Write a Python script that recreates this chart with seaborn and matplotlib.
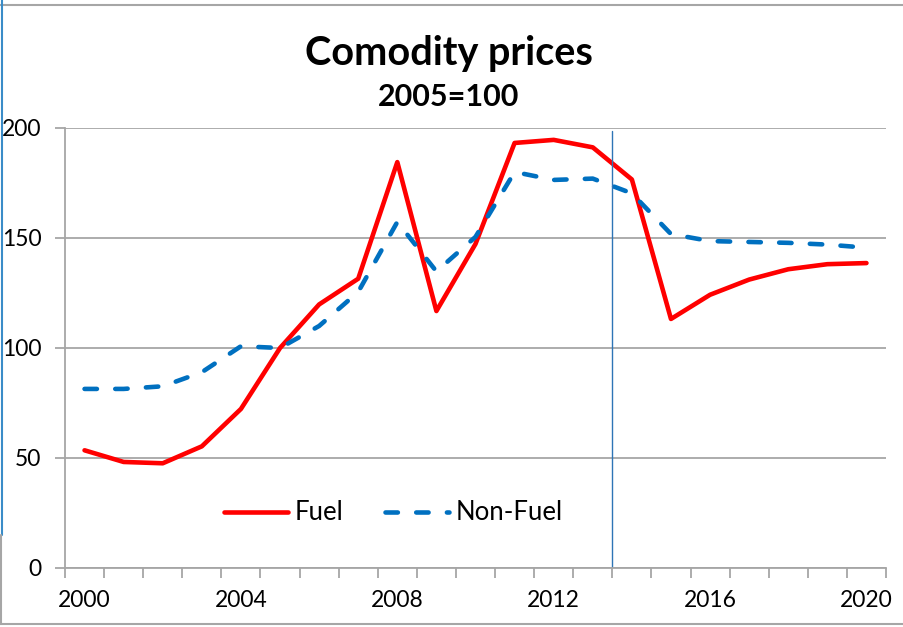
import pandas as pd
import matplotlib.pyplot as plt
import seaborn as sns
from matplotlib.lines import Line2D
from matplotlib.ticker import MultipleLocator, FixedLocator


years = list(range(2000, 2021))
fuel = [53.5, 48.2, 47.6, 55.3, 72.3, 100.0, 119.8, 131.5, 184.5, 116.8, 147.3,
        193.2, 194.6, 191.2, 176.6, 113.2, 124.2, 131.1, 135.8, 138.1, 138.6]
non_fuel = [81.4, 81.4, 82.6, 89.0, 100.8, 100.0, 110.0, 125.5, 157.3, 134.8, 150.5,
            180.0, 176.4, 177.0, 170.3, 151.8, 148.6, 148.2, 147.8, 147.0, 145.6]
x_labels = [2000, 2004, 2008, 2012, 2016, 2020]
y_ticks = [0, 50, 100, 150, 200]
split_year = 2013.5

df = pd.DataFrame({'Year': years, 'Fuel': fuel, 'Non-Fuel': non_fuel})

sns.set_style('white')
plt.rcParams['font.family'] = ['Lato', 'DejaVu Sans']
plt.rcParams['text.color'] = 'black'
plt.rcParams['xtick.color'] = 'black'
plt.rcParams['ytick.color'] = 'black'

grid_gray = '#a6a6a6'
fig = plt.figure(figsize=(9.04, 6.27), dpi=100)
ax = fig.add_axes([65 / 904, 59 / 627, 821 / 904, 440 / 627])

sns.lineplot(data=df, x='Year', y='Fuel', ax=ax, color='#ff0000', linewidth=3.3,
             label='Fuel', solid_capstyle='round')
sns.lineplot(data=df, x='Year', y='Non-Fuel', ax=ax, color='#0070c0', linewidth=3.3,
             label='Non-Fuel', linestyle=(0, (2.7, 4.0)), dash_capstyle='round')

ax.axvline(split_year, ymin=0, ymax=0.993, color='#2e75b6', linewidth=1.0)

ax.set_xlim(1999.5, 2020.5)
ax.set_ylim(0, 200)
ax.set_xlabel('')
ax.set_ylabel('')

ax.xaxis.set_major_locator(FixedLocator(x_labels))
ax.xaxis.set_minor_locator(MultipleLocator(1, offset=0.5))
ax.set_yticks(y_ticks)
ax.tick_params(axis='x', which='major', length=0, pad=16, labelsize=16.5)
ax.tick_params(axis='x', which='minor', length=7, width=1.3, color=grid_gray,
               direction='out', bottom=True)
ax.tick_params(axis='y', length=7, width=1.3, color=grid_gray, direction='out',
               left=True, pad=10, labelsize=16.5)

ax.grid(axis='y', color=grid_gray, linewidth=1.3)
for side in ['top', 'right']:
    ax.spines[side].set_visible(False)
for side in ['left', 'bottom']:
    ax.spines[side].set_color(grid_gray)
    ax.spines[side].set_linewidth(1.3)

ax.legend(loc='center', bbox_to_anchor=(0.40, 0.125), ncol=2, frameon=False,
          fontsize=18.5, handlelength=2.5, columnspacing=1.6, handletextpad=0.25)

fig.text(449 / 904, 1 - 65 / 627, 'Comodity prices', ha='center', va='baseline',
         fontsize=28.5, fontweight='bold')
fig.text(449 / 904, 1 - 106 / 627, '2005=100', ha='center', va='baseline',
         fontsize=22, fontweight='bold')

# outer chart frame, cut off on the right
fig.add_artist(Line2D([0, 1], [1 - 5 / 627, 1 - 5 / 627], color=grid_gray, linewidth=1.5))
fig.add_artist(Line2D([0, 1], [1 - 624 / 627, 1 - 624 / 627], color=grid_gray, linewidth=1.5))
fig.add_artist(Line2D([2 / 904, 2 / 904], [1, 1 - 535 / 627], color='#3a8cc8', linewidth=1.5))
fig.add_artist(Line2D([1 / 904, 1 / 904], [1 - 535 / 627, 1 - 624 / 627], color=grid_gray, linewidth=1.5))

fig.savefig('out.png', dpi=100)
